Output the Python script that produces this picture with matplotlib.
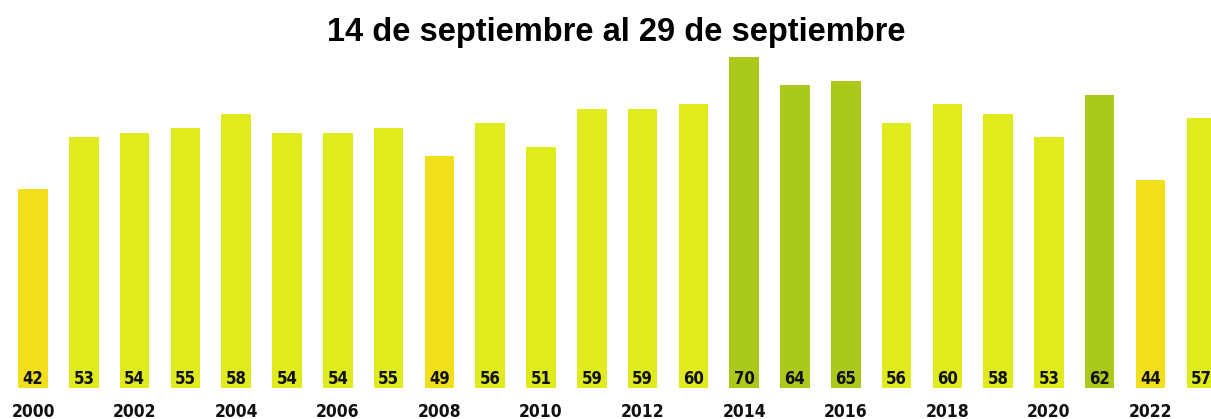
import matplotlib
matplotlib.use("Agg")
import matplotlib.pyplot as plt
from matplotlib import font_manager as fm

years = list(range(2000, 2024))
values = [42, 53, 54, 55, 58, 54, 54, 55, 49, 56, 51, 59, 59, 60, 70, 64, 65, 56, 60, 58, 53, 62, 44, 57]
title = "14 de septiembre al 29 de septiembre"

YELLOW = "#f0df1a"
LIME = "#e0eb1e"
GREEN = "#aac91a"

def color_for(v):
    if v < 50:
        return YELLOW
    if v >= 62:
        return GREEN
    return LIME

colors = [color_for(v) for v in values]

# look for a condensed bold font
narrow_file = None
for key in ("LiberationSansNarrow-Bold", "DejaVuSansCondensed-Bold"):
    for f in fm.fontManager.ttflist:
        if key.lower() in f.fname.lower().replace("_", "").replace(" ", ""):
            narrow_file = f.fname
            break
    if narrow_file:
        break

def label_props(size):
    if narrow_file:
        return dict(fontproperties=fm.FontProperties(fname=narrow_file, size=size))
    return dict(fontsize=size - 1.5, fontweight="bold", family=["Liberation Sans", "DejaVu Sans"])

fig = plt.figure(figsize=(12.11, 4.19), dpi=100)
ax = fig.add_axes([0, 31 / 419, 1, 331 / 419])
x = list(range(len(years)))
ax.bar(x, values, width=0.58, color=colors, edgecolor="none")
ax.set_xlim(-0.65, 23.19)
ax.set_ylim(0, 70)
ax.axis("off")

for xi, v in zip(x, values):
    ax.text(xi, 0.8, str(v), ha="center", va="baseline", color="#111111",
            **label_props(12))

for xi, yr in zip(x, years):
    if yr % 2 == 0:
        ax.annotate(str(yr), xy=(xi, 0), xycoords="data", xytext=(0, -29),
                    textcoords="offset pixels", ha="center", va="baseline",
                    color="#111111", annotation_clip=False, **label_props(12.5))

fig.text(616.5 / 1211, 1 - 41 / 419, title, ha="center", va="baseline", fontsize=23.5,
         fontweight="bold", family=["Liberation Sans", "DejaVu Sans"], color="#000000")

fig.savefig("out.png", dpi=100, facecolor="white")
